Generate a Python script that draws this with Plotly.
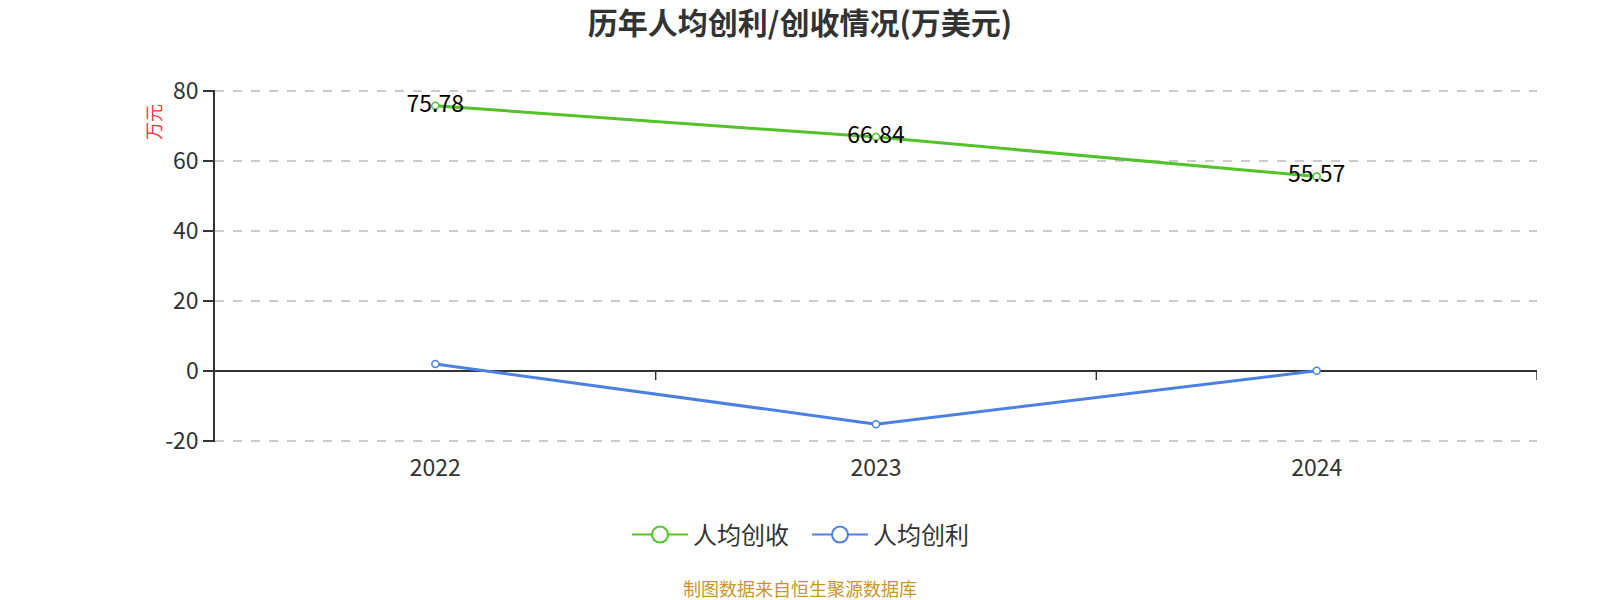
import plotly.graph_objects as go

years = ["2022", "2023", "2024"]
revenue_per_capita = [75.78, 66.84, 55.57]
profit_per_capita = [1.98, -15.2, 0.05]
y_ticks = [-20, 0, 20, 40, 60, 80]
y_tick_text = ["-20", "0", "20", "40", "60", "80"]

GREEN = "#52c32a"
BLUE = "#4d80e4"
FONT = "Noto Sans CJK SC"

L, R, T, B = 215, 63, 90, 158
PW, PH = 1600 - L - R, 600 - T - B

fig = go.Figure()

fig.add_trace(go.Scatter(
    x=years, y=revenue_per_capita, name="人均创收", mode="lines+markers+text",
    line=dict(color=GREEN, width=3),
    marker=dict(symbol="circle", size=7, color="white", line=dict(color=GREEN, width=1.5)),
    text=[f"{v:.2f}" for v in revenue_per_capita], textposition="middle center",
    textfont=dict(color="#000000", size=23, family=FONT),
    showlegend=False, cliponaxis=False,
))
fig.add_trace(go.Scatter(
    x=years, y=profit_per_capita, name="人均创利", mode="lines+markers",
    line=dict(color=BLUE, width=3),
    marker=dict(symbol="circle", size=7, color="white", line=dict(color=BLUE, width=1.5)),
    showlegend=False, cliponaxis=False,
))
# legend entries
for name, col in [("人均创收", GREEN), ("人均创利", BLUE)]:
    fig.add_trace(go.Scatter(
        x=[None], y=[None], name=name, mode="lines+markers",
        line=dict(color=col, width=2),
        marker=dict(symbol="circle", size=16, color="white", line=dict(color=col, width=2)),
    ))

# small tick marks at category boundaries hanging below the zero line
for b in [0.5, 1.5, 2.5]:
    fig.add_shape(type="line", xref="x", yref="y", x0=b, x1=b, y0=0, y1=-2.6,
                  line=dict(color="#333333", width=1.5))

fig.update_layout(
    width=1600, height=600, autosize=False,
    paper_bgcolor="white", plot_bgcolor="white",
    margin=dict(l=L, r=R, t=T, b=B, autoexpand=False),
    font=dict(family=FONT, color="#333333"),
    title=dict(text="<b>历年人均创利/创收情况(万美元)</b>", x=0.5, xref="container",
               xanchor="center", y=1 - 23 / 600, yanchor="middle",
               font=dict(size=30, color="#333333", family=FONT)),
    legend=dict(orientation="h", xref="paper", x=(807 - L) / PW, xanchor="center",
                yref="paper", y=(PH - (535 - T)) / PH, yanchor="middle",
                font=dict(size=24, color="#333333", family=FONT),
                itemwidth=56, entrywidth=109, entrywidthmode="pixels", tracegroupgap=0),
    xaxis=dict(type="category", range=[-0.5, 2.5], showgrid=False, showline=False,
               zeroline=False, ticks="", tickfont=dict(size=23, color="#333333"),
               ticklabelstandoff=10, fixedrange=True, automargin=False),
    yaxis=dict(range=[-20.3, 80.3], tickmode="array", tickvals=y_ticks, ticktext=y_tick_text,
               showgrid=True, gridcolor="#cccccc", griddash="dash", gridwidth=1.5,
               zeroline=True, zerolinecolor="#333333", zerolinewidth=1.5,
               showline=True, linecolor="#333333", linewidth=1.5,
               ticks="outside", ticklen=10, tickcolor="#333333", tickwidth=1.5,
               tickfont=dict(size=23, color="#333333"), automargin=False),
    annotations=[
        dict(text="万元", xref="paper", yref="paper", x=(153 - L) / PW, y=(PH - (122 - T)) / PH,
             textangle=-90, showarrow=False, xanchor="center", yanchor="middle",
             font=dict(size=18, color="#ff3333", family=FONT)),
        dict(text="制图数据来自恒生聚源数据库", xref="paper", yref="paper",
             x=(800 - L) / PW, y=(PH - (588 - T)) / PH, showarrow=False,
             xanchor="center", yanchor="middle",
             font=dict(size=18, color="#c8962c", family=FONT)),
    ],
)

fig.write_html("out.html", config={"displayModeBar": False},
               post_script="document.body.style.margin='0';")
